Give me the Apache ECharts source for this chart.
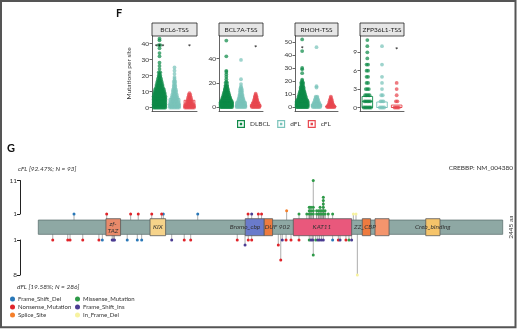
<!DOCTYPE html>
<html><head><meta charset="utf-8">
<script src="https://cdn.jsdelivr.net/npm/echarts@6/dist/echarts.min.js"></script>
<style>html,body{margin:0;padding:0;background:#fff}#c{width:520px;height:329px}</style>
</head><body><div id="c"></div>
<script>
// ---------- Panel F data ----------
const facetNames = ['BCL6-TSS', 'BCL7A-TSS', 'RHOH-TSS', 'ZFP36L1-TSS'];
const groups = ['DLBCL', 'dFL', 'cFL'];
const facetTicks = [[0, 10, 20, 30, 40], [0, 20, 40], [0, 10, 20, 30, 40, 50], [0, 3, 6, 9]];

// [mutations per site, number of sites]
const bcl6DLBCL = [[43,1],[42,1],[39,2],[37,1],[34,1],[32,1],[28,1],[26,1],[24,1],[22,2],[21,1],[20,2],[19,2],[18,3],[17,3],[16,4],[15,4],[14,5],[13,5],[12,6],[11,7],[10,7],[9,8],[8,8],[7,9],[6,9],[5,10],[4,10],[3,11],[2,11],[1,12],[0,12]];
const bcl6dFL = [[25,1],[23,1],[21,1],[19,1],[18,1],[17,1],[16,2],[15,1],[14,2],[13,2],[12,2],[11,3],[10,3],[9,3],[8,4],[7,4],[6,5],[5,5],[4,6],[3,6],[2,7],[1,7],[0,7]];
const bcl6cFL = [[9,1],[8,2],[7,2],[6,3],[5,3],[4,4],[3,5],[2,6],[1,7],[0,7]];

const bcl7aDLBCL = [[55,1],[42,1],[30,1],[29,1],[27,1],[25,1],[23,1],[21,1],[20,2],[18,2],[17,2],[16,2],[15,3],[14,3],[13,3],[12,4],[11,4],[10,5],[9,5],[8,6],[7,6],[6,7],[5,8],[4,9],[3,10],[2,11],[1,12],[0,12]];
const bcl7adFL = [[39,1],[23,1],[19,1],[17,1],[16,1],[15,2],[14,2],[13,2],[12,2],[11,2],[10,3],[9,3],[8,3],[7,4],[6,4],[5,5],[4,5],[3,6],[2,6],[1,7],[0,7]];
const bcl7acFL = [[11,1],[10,1],[9,2],[8,2],[7,2],[6,3],[5,3],[4,4],[3,5],[2,5],[1,6],[0,6]];

const rhohDLBCL = [[52,1],[43,1],[30,1],[29,1],[26,1],[21,1],[20,1],[19,2],[18,2],[17,2],[16,2],[15,3],[14,3],[13,3],[12,4],[11,4],[10,5],[9,5],[8,6],[7,6],[6,7],[5,8],[4,9],[3,10],[2,11],[1,12],[0,12]];
const rhohdFL = [[46,1],[16,1],[15,1],[8,2],[7,2],[6,3],[5,3],[4,4],[3,5],[2,5],[1,6],[0,6]];
const rhohcFL = [[8,1],[7,1],[6,2],[5,2],[4,3],[3,3],[2,4],[1,5],[0,6]];

const zfpDLBCL = [[11,1],[10,1],[9,1],[8,1],[7,2],[6,2],[5,2],[4,2],[3,3],[2,4],[1,5],[0,6]];
const zfpdFL = [[10,1],[7,1],[5,1],[4,1],[3,1],[2,2],[1,3],[0,4]];
const zfpcFL = [[4,1],[3,1],[2,1],[1,2],[0,4]];

// box stats per group: [q1, median, q3]
const bcl6Box = [[0,3,9.5],[0,2,5.5],[0,1,4.5]];
const bcl7aBox = [[0,1,5.5],[0,1,4.4],[0,0.5,2]];
const rhohBox = [[0,1,2.8],[0,1,2.3],[0,0,0.8]];
const zfpBox = [[0,1,1.8],[0,0,0.9],[0,0,0.4]];

// significance marks: [group, value, text]
const bcl6Sig = [['DLBCL',39,'***'],['cFL',39,'*']];
const bcl7aSig = [['cFL',50,'*']];
const rhohSig = [['DLBCL',46,'*']];
const zfpSig = [['cFL',9.6,'*']];

// ---------- Panel G data ----------
const proteinLength = 2445;
const domainNames = ['zf-TAZ','KIX','Bromo_cbp','DUF902','KAT11','ZZ','zf-TAZ','Creb_binding'];
const domainStart = [357, 589, 1090, 1190, 1343, 1706, 1773, 2040];
const domainEnd   = [434, 671, 1190, 1234, 1650, 1750, 1847, 2115];
const domainLabels = ['zf-\nTAZ','KIX','Bromo_cbp','DUF 902','KAT11','ZZ_CBP','','Creb_binding'];
const domainLabelAt = [394, 630, 1089, 1259, 1494, 1720, 1810, 2077];

const mutTypes = ['Frame_Shift_Del','Missense_Mutation','Nonsense_Mutation','Frame_Shift_Ins','Splice_Site','In_Frame_Del'];

// cFL (top): [amino acid position, count]
const cflFrameDel = [[189,1],[659,1],[840,1]];
const cflMissense = [[1373,1],[1414,1],[1427,3],[1427,2],[1427,1],[1436,3],[1436,2],[1436,1],[1448,11],[1448,3],[1448,2],[1448,1],[1466,2],[1466,1],[1476,2],[1476,1],[1484,3],[1484,2],[1484,1],[1493,2],[1493,1],[1501,6],[1501,5],[1501,4],[1501,3],[1501,2],[1501,1],[1510,2],[1510,1],[1527,1],[1550,1]];
const cflNonsense = [[361,1],[487,1],[527,1],[598,1],[650,1],[1105,1],[1159,1],[1176,1]];
const cflFrameIns = [[1124,1]];
const cflSplice = [[1308,2]];
const cflInFrame = [[1659,1],[1673,1]];

// dFL (bottom)
const dflFrameDel = [[338,1],[469,1],[522,1],[545,1],[1550,1]];
const dflMissense = [[1427,1],[1448,4],[1461,1],[1636,1]];
const dflNonsense = [[77,1],[156,1],[168,1],[235,1],[320,1],[769,1],[803,1],[1048,1],[1106,1],[1124,1],[1264,2],[1277,5],[1305,1],[1331,1],[1373,1],[1580,1],[1620,1]];
const dflFrameIns = [[390,1],[396,1],[402,1],[703,1],[1089,2],[1285,1],[1436,1],[1445,1],[1472,1],[1481,1],[1491,1],[1501,1],[1589,1],[1650,1]];
const dflSplice = [];
const dflInFrame = [[1680,8]];

// ---------- styles / layout ----------
const FONT = 'Lato, "Open Sans", sans-serif';
const groupColors = ['#0e8a48', '#79c3ba', '#e8474f'];
const mutColors = ['#2a78b8', '#2e9a48', '#e0242a', '#4b3c92', '#f57f2a', '#f7f2a0'];
const domainColors = ['#e98a6a', '#f6d38a', '#6a7bcb', '#ee7b3f', '#e9587c', '#ee7b3f', '#f4956d', '#f6c46a'];
const FL = [{left:152,width:45},{left:219,width:44},{left:295,width:43},{left:360,width:44}];
const F_TOP = 36, F_H = 75;
const yRange = [[-2.19, 44.7], [-3.3, 58.8], [-3.08, 54.6], [-0.57, 11.66]];

const facetData = [[bcl6DLBCL,bcl6dFL,bcl6cFL],[bcl7aDLBCL,bcl7adFL,bcl7acFL],[rhohDLBCL,rhohdFL,rhohcFL],[zfpDLBCL,zfpdFL,zfpcFL]];
const facetBoxes = [bcl6Box, bcl7aBox, rhohBox, zfpBox];
const facetSig = [bcl6Sig, bcl7aSig, rhohSig, zfpSig];
const cflByType = [cflFrameDel, cflMissense, cflNonsense, cflFrameIns, cflSplice, cflInFrame];
const dflByType = [dflFrameDel, dflMissense, dflNonsense, dflFrameIns, dflSplice, dflInFrame];

function swarm(pairs, center) {
  const out = [];
  pairs.forEach(([v, n]) => {
    const step = Math.min(0.1, 0.78 / Math.max(n - 1, 1));
    for (let k = 0; k < n; k++) out.push([center + (k - (n - 1) / 2) * step, v]);
  });
  return out;
}

const grids = [], xAxes = [], yAxes = [], series = [], graphics = [];
const axLine = { show: true, onZero: false, lineStyle: { color: '#222', width: 0.7 } };

FL.forEach((g, f) => {
  grids.push({ left: g.left, top: F_TOP, width: g.width, height: F_H, outerBoundsMode: 'none' });
  xAxes.push({ gridIndex: f, type: 'value', min: 0.5, max: 3.5, axisLine: axLine, axisTick: { show: false }, axisLabel: { show: false }, splitLine: { show: false } });
  yAxes.push({ gridIndex: f, type: 'value', min: yRange[f][0], max: yRange[f][1], axisLine: axLine,
    axisTick: { show: true, length: 2.5, customValues: facetTicks[f], lineStyle: { color: '#222', width: 0.7 } },
    axisLabel: { customValues: facetTicks[f], fontSize: 6.5, color: '#333', margin: 3, fontFamily: FONT },
    splitLine: { show: false },
    name: f === 0 ? 'Mutations per site' : '', nameLocation: 'middle', nameGap: 20,
    nameTextStyle: { fontSize: 6.5, color: '#333', fontFamily: FONT } });
  for (let gi = 0; gi < 3; gi++) {
    series.push({ type: 'scatter', name: groups[gi], xAxisIndex: f, yAxisIndex: f, data: swarm(facetData[f][gi], gi + 1),
      symbolSize: 3.8, itemStyle: { color: groupColors[gi], opacity: 0.72 }, silent: true, z: 2 });
  }
  series.push({ type: 'custom', xAxisIndex: f, yAxisIndex: f, silent: true, z: 3,
    data: facetBoxes[f].map((b, gi) => [gi + 1, b[0], b[1], b[2]]),
    renderItem: (params, api) => {
      const gx = api.value(0), col = groupColors[gx - 1];
      const a = api.coord([gx - 0.36, api.value(3)]), b = api.coord([gx + 0.36, api.value(1)]);
      const m1 = api.coord([gx - 0.36, api.value(2)]), m2 = api.coord([gx + 0.36, api.value(2)]);
      return { type: 'group', children: [
        { type: 'rect', shape: { x: a[0], y: a[1], width: b[0] - a[0], height: b[1] - a[1] }, style: { fill: 'none', stroke: col, lineWidth: 0.9 } },
        { type: 'line', shape: { x1: m1[0], y1: m1[1], x2: m2[0], y2: m2[1] }, style: { stroke: col, lineWidth: 0.9 } }
      ] };
    } });
  series.push({ type: 'custom', xAxisIndex: f, yAxisIndex: f, silent: true, z: 4,
    data: facetSig[f].map(s => [groups.indexOf(s[0]) + 1, s[1]]),
    renderItem: (params, api) => {
      const p = api.coord([api.value(0), api.value(1)]);
      return { type: 'text', x: p[0], y: p[1] + 2, style: { text: facetSig[f][params.dataIndex][2], fill: '#111', fontSize: 8, align: 'center', verticalAlign: 'middle', fontFamily: FONT } };
    } });
  graphics.push({ type: 'rect', shape: { x: g.left, y: 23, width: g.width, height: 13 }, style: { fill: '#e6e6e6', stroke: '#222', lineWidth: 0.8 } });
  graphics.push({ type: 'text', x: g.left + g.width / 2, y: 29.5, style: { text: facetNames[f], fontSize: 6.5, fill: '#222', align: 'center', verticalAlign: 'middle', fontFamily: FONT } });
});

// Panel G grids: 4 = cFL (top), 5 = protein, 6 = dFL (bottom)
const G_LEFT = 38.3, G_W = 464.4;
grids.push({ left: G_LEFT, top: 180.5, width: G_W, height: 33.5, outerBoundsMode: 'none' });
grids.push({ left: G_LEFT, top: 218.7, width: G_W, height: 17, outerBoundsMode: 'none' });
grids.push({ left: G_LEFT, top: 240, width: G_W, height: 35, outerBoundsMode: 'none' });
for (let i = 4; i <= 6; i++) xAxes.push({ gridIndex: i, type: 'value', min: 1, max: proteinLength, show: false });
const scaleAxis = (gi, min, max, inverse) => ({ gridIndex: gi, type: 'value', min, max, inverse, offset: 18.3,
  axisLine: { show: true, onZero: false, lineStyle: { color: '#222', width: 1 } },
  axisTick: { show: true, length: 3, customValues: [min, max], lineStyle: { color: '#222', width: 1 } },
  axisLabel: { customValues: [min, max], fontSize: 6.5, color: '#333', margin: 3, fontFamily: FONT },
  splitLine: { show: false } });
yAxes.push(scaleAxis(4, 1, 11, false));
yAxes.push({ gridIndex: 5, type: 'value', min: 0, max: 1, show: false });
yAxes.push(scaleAxis(6, 1, 8, true));

const TOP_BASE = 1 - 6 / 3.35;   // protein bar top edge, in cFL count units
const BOT_BASE = 1 - 6 / 5;      // protein bar bottom edge, in dFL count units
const lolli = (base, color) => (params, api) => {
  const x = api.value(0), c = api.value(1);
  const h = api.coord([x, c]), b = api.coord([x, base]);
  return { type: 'group', children: [
    { type: 'line', shape: { x1: h[0], y1: b[1], x2: h[0], y2: h[1] }, style: { stroke: '#8a8a8a', lineWidth: 0.7 } },
    { type: 'circle', shape: { cx: h[0], cy: h[1], r: 1.5 }, style: { fill: color } }
  ] };
};
mutTypes.forEach((t, i) => {
  series.push({ type: 'custom', name: t, xAxisIndex: 4, yAxisIndex: 4, data: cflByType[i], itemStyle: { color: mutColors[i] }, renderItem: lolli(TOP_BASE, mutColors[i]), clip: false, silent: true, z: 5 });
  series.push({ type: 'custom', name: t, xAxisIndex: 6, yAxisIndex: 6, data: dflByType[i], itemStyle: { color: mutColors[i] }, renderItem: lolli(BOT_BASE, mutColors[i]), clip: false, silent: true, z: 5 });
});

// protein backbone
series.push({ type: 'custom', xAxisIndex: 5, yAxisIndex: 5, silent: true, z: 6, clip: false, data: [[1, proteinLength]],
  renderItem: (params, api) => {
    const a = api.coord([api.value(0), 0.92]), b = api.coord([api.value(1), 0.08]), m = api.coord([api.value(1), 0.5]);
    return { type: 'group', children: [
      { type: 'rect', shape: { x: a[0], y: a[1], width: b[0] - a[0], height: b[1] - a[1] }, style: { fill: '#8ea8a4', stroke: '#5f7472', lineWidth: 0.8 } },
      { type: 'text', x: m[0] + 8, y: m[1], rotation: Math.PI / 2, style: { text: proteinLength + ' aa', fontSize: 6.5, fill: '#333', align: 'center', verticalAlign: 'middle', fontFamily: FONT } }
    ] };
  } });
// domains
series.push({ type: 'custom', xAxisIndex: 5, yAxisIndex: 5, silent: true, z: 7, clip: false,
  data: domainStart.map((s, i) => [s, domainEnd[i], domainLabelAt[i]]),
  renderItem: (params, api) => {
    const i = params.dataIndex;
    const a = api.coord([api.value(0), 1]), b = api.coord([api.value(1), 0]), l = api.coord([api.value(2), 0.5]);
    return { type: 'group', children: [
      { type: 'rect', shape: { x: a[0], y: a[1], width: b[0] - a[0], height: b[1] - a[1] }, style: { fill: domainColors[i], stroke: '#5a5a5a', lineWidth: 0.8 } },
      { type: 'text', x: l[0], y: l[1], z2: 10, style: { text: domainLabels[i], fontSize: 6.5, fontStyle: 'italic', fill: '#333', align: 'center', verticalAlign: 'middle', lineHeight: 7, fontFamily: FONT } }
    ] };
  } });

// frame and labels
graphics.push({ type: 'rect', shape: { x: 1, y: 1, width: 514.5, height: 326.3 }, style: { fill: 'none', stroke: '#555', lineWidth: 2 }, z: 100 });
graphics.push({ type: 'text', x: 116, y: 13, style: { text: 'F', fontSize: 11, fontWeight: 'bold', fill: '#111', verticalAlign: 'middle', fontFamily: FONT } });
graphics.push({ type: 'text', x: 7, y: 148, style: { text: 'G', fontSize: 11, fontWeight: 'bold', fill: '#111', verticalAlign: 'middle', fontFamily: FONT } });
graphics.push({ type: 'text', x: 18, y: 169, style: { text: 'cFL [92.47%; N = 93]', fontSize: 6.5, fontStyle: 'italic', fill: '#333', verticalAlign: 'middle', fontFamily: FONT } });
graphics.push({ type: 'text', x: 17, y: 287, style: { text: 'dFL [19.58%; N = 286]', fontSize: 6.5, fontStyle: 'italic', fill: '#333', verticalAlign: 'middle', fontFamily: FONT } });
graphics.push({ type: 'text', x: 513, y: 168, style: { text: 'CREBBP: NM_004380', fontSize: 6.5, fill: '#333', align: 'right', verticalAlign: 'middle', fontFamily: FONT } });

const legText = { fontSize: 6.5, color: '#333', fontFamily: FONT };
const mutLegText = { fontSize: 6, color: '#333', fontFamily: FONT, padding: [0, 0, 0, -2] };
const option = {
  animation: false,
  grid: grids, xAxis: xAxes, yAxis: yAxes, series,
  graphic: graphics,
  legend: [
    { data: groups.map((g, i) => ({ name: g, itemStyle: { color: groupColors[i], opacity: 1 } })), left: 232, top: 115,
      icon: 'path://M0,0H10V10H0Z M1.5,1.5V8.5H8.5V1.5Z M3.5,3.5H6.5V6.5H3.5Z', itemWidth: 8, itemHeight: 8, itemGap: 7,
      textStyle: legText, selectedMode: false },
    { data: ['Frame_Shift_Del', 'Nonsense_Mutation', 'Splice_Site'].map(n => ({ name: n, itemStyle: { color: mutColors[mutTypes.indexOf(n)] } })),
      orient: 'vertical', left: 5, top: 291, icon: 'circle', itemWidth: 5, itemHeight: 5, itemGap: 2, textStyle: mutLegText, selectedMode: false },
    { data: ['Missense_Mutation', 'Frame_Shift_Ins', 'In_Frame_Del'].map(n => ({ name: n, itemStyle: { color: mutColors[mutTypes.indexOf(n)] } })),
      orient: 'vertical', left: 70, top: 291, icon: 'circle', itemWidth: 5, itemHeight: 5, itemGap: 2, textStyle: mutLegText, selectedMode: false }
  ]
};
const chart = echarts.init(document.getElementById('c'), null, { renderer: 'canvas' });
chart.setOption(option);
</script></body></html>
